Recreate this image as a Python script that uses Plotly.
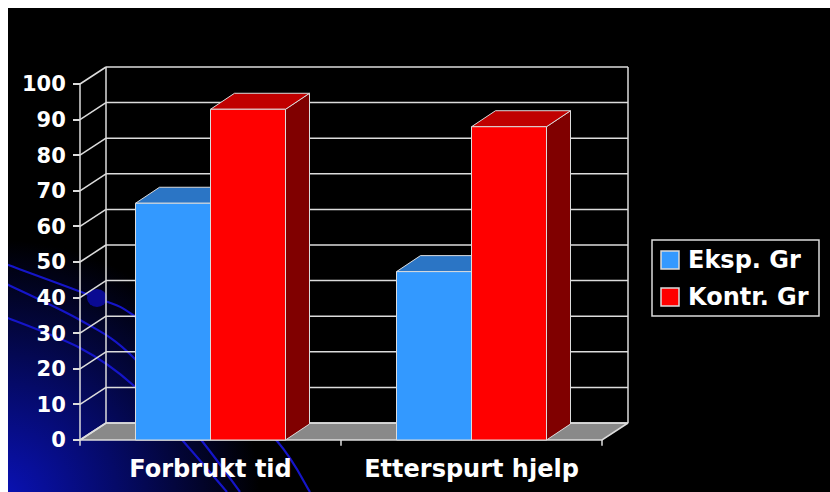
import base64
import plotly.graph_objects as go

# ---- data -------------------------------------------------------------
categories = ["Forbrukt tid", "Etterspurt hjelp"]
series_names = ["Eksp. Gr", "Kontr. Gr"]
eksp_values = [66.5, 47.3]
kontr_values = [92.9, 88.0]
y_ticks = [0, 10, 20, 30, 40, 50, 60, 70, 80, 90, 100]

# ---- styling ----------------------------------------------------------
front_colors = ["#3399FF", "#FF0000"]
top_colors = ["#2B75C5", "#C00000"]
side_colors = ["#1F5C9E", "#800000"]
edge_color = "#DCDCDC"
grid_color = "#DCDCDC"
floor_color = "#898989"
FONT = "DejaVu Sans"

# screen scale of the category / value axes
PX_PER_CAT = 261.0
PX_PER_VAL = 3.56
X_LEFT_PX = 80.0      # pixel of x = -0.5
Y_ZERO_PX = 440.0     # pixel of value 0
W, H = 830, 492
ML, MT = 8, 8


def px2x(p):
    return (p - X_LEFT_PX) / PX_PER_CAT - 0.5


def px2v(p):
    return (Y_ZERO_PX - p) / PX_PER_VAL


X_RANGE = [px2x(ML), px2x(W)]
Y_RANGE = [px2v(H), px2v(MT)]

# 3D depth offsets (axis units)
WALL_DX, WALL_DV = 26 / PX_PER_CAT, 17 / PX_PER_VAL
BAR_DX, BAR_DV = 24 / PX_PER_CAT, 16 / PX_PER_VAL
BAR_W = 75 / PX_PER_CAT
X_MIN, X_MAX = -0.5, len(categories) - 0.5
V_MAX = y_ticks[-1]

fig = go.Figure()


def poly(xs, ys, fill, line_color=edge_color, width=1.0):
    fig.add_trace(go.Scatter(
        x=list(xs) + [xs[0]], y=list(ys) + [ys[0]], mode="lines",
        fill="toself", fillcolor=fill,
        line=dict(color=line_color, width=width),
        hoverinfo="skip", showlegend=False))


def segments(pairs, color=grid_color, width=1.5):
    xs, ys = [], []
    for (x0, y0), (x1, y1) in pairs:
        xs += [x0, x1, None]
        ys += [y0, y1, None]
    fig.add_trace(go.Scatter(x=xs, y=ys, mode="lines",
                             line=dict(color=color, width=width),
                             hoverinfo="skip", showlegend=False))


# ---- floor ------------------------------------------------------------
poly([X_MIN, X_MAX, X_MAX + WALL_DX, X_MIN + WALL_DX],
     [0, 0, WALL_DV, WALL_DV], floor_color, edge_color, 1.5)

# ---- back wall and side wall grid ------------------------------------
back = [((X_MIN + WALL_DX, t + WALL_DV), (X_MAX + WALL_DX, t + WALL_DV)) for t in y_ticks]
back += [((X_MIN + WALL_DX, WALL_DV), (X_MIN + WALL_DX, V_MAX + WALL_DV)),
         ((X_MAX + WALL_DX, WALL_DV), (X_MAX + WALL_DX, V_MAX + WALL_DV))]
side = [((X_MIN, t), (X_MIN + WALL_DX, t + WALL_DV)) for t in y_ticks]
side += [((X_MIN, -1.6), (X_MIN, V_MAX))]
cat_ticks = [((b, 0), (b, -1.6)) for b in [c + 0.5 for c in range(len(categories))]]
segments(back + side + cat_ticks)

# ---- 3D columns -------------------------------------------------------
values = [eksp_values, kontr_values]
for ci in range(len(categories)):
    for si, vals in enumerate(values):
        v = vals[ci]
        x0 = ci - BAR_W + si * BAR_W
        x1 = x0 + BAR_W
        # side face
        poly([x1, x1 + BAR_DX, x1 + BAR_DX, x1],
             [0, BAR_DV, v + BAR_DV, v], side_colors[si])
        # top face
        poly([x0, x1, x1 + BAR_DX, x0 + BAR_DX],
             [v, v, v + BAR_DV, v + BAR_DV], top_colors[si])
        # front face
        poly([x0, x1, x1, x0], [0, 0, v, v], front_colors[si])

# ---- legend -----------------------------------------------------------
shapes = [dict(type="rect", xref="x", yref="y",
               x0=px2x(652), x1=px2x(819), y0=px2v(240), y1=px2v(316),
               line=dict(color=edge_color, width=1.5), fillcolor="rgba(0,0,0,0)")]
annotations = []
for i, name in enumerate(series_names):
    cy = 260 + 37 * i
    shapes.append(dict(type="rect", xref="x", yref="y",
                       x0=px2x(661), x1=px2x(679), y0=px2v(cy - 9), y1=px2v(cy + 9),
                       line=dict(color=edge_color, width=1.5), fillcolor=front_colors[i]))
    annotations.append(dict(x=px2x(686), y=px2v(cy), xref="x", yref="y",
                            text=name, showarrow=False, xanchor="left", yanchor="middle",
                            font=dict(family=FONT, size=24, color="white", weight="bold")))


# ---- background swirl -------------------------------------------------
def smooth_path(pts):
    d = "M%.1f,%.1f" % pts[0]
    for i in range(len(pts) - 1):
        p0 = pts[i - 1] if i > 0 else pts[i]
        p1, p2 = pts[i], pts[i + 1]
        p3 = pts[i + 2] if i + 2 < len(pts) else pts[i + 1]
        c1 = (p1[0] + (p2[0] - p0[0]) / 6, p1[1] + (p2[1] - p0[1]) / 6)
        c2 = (p2[0] - (p3[0] - p1[0]) / 6, p2[1] - (p3[1] - p1[1]) / 6)
        d += " C%.1f,%.1f %.1f,%.1f %.1f,%.1f" % (c1 + c2 + p2)
    return d


curves = [
    [(0, 262), (97, 298), (133, 315), (205, 372), (277, 441), (310, 492)],
    [(0, 281), (80, 320), (133, 357), (202, 441), (240, 492)],
    [(0, 315), (80, 348), (133, 385), (183, 441), (227, 492)],
]
paths = "".join('<path d="%s" fill="none" stroke="#1515C8" stroke-width="2.2"/>'
                % smooth_path(c) for c in curves)
svg = (
    '<svg xmlns="http://www.w3.org/2000/svg" width="822" height="484" '
    'viewBox="8 8 822 484" preserveAspectRatio="none">'
    '<defs><radialGradient id="g" cx="0" cy="500" r="260" gradientUnits="userSpaceOnUse">'
    '<stop offset="0" stop-color="#0A12B8"/>'
    '<stop offset="0.45" stop-color="#050A68"/>'
    '<stop offset="1" stop-color="#000000"/>'
    '</radialGradient></defs>'
    '<rect x="8" y="8" width="822" height="484" fill="#000000"/>'
    '<rect x="8" y="200" width="420" height="292" fill="url(#g)"/>'
    + paths +
    '<ellipse cx="97" cy="298" rx="10" ry="9" fill="#0A0A92"/>'
    '</svg>'
)
bg_src = "data:image/svg+xml;base64," + base64.b64encode(svg.encode()).decode()

fig.update_layout(
    width=W, height=H,
    margin=dict(l=ML, t=MT, r=0, b=0, pad=0),
    paper_bgcolor="white", plot_bgcolor="black",
    showlegend=False,
    shapes=shapes, annotations=annotations,
    images=[dict(source=bg_src, xref="x", yref="y",
                 x=X_RANGE[0], y=Y_RANGE[1],
                 sizex=X_RANGE[1] - X_RANGE[0], sizey=Y_RANGE[1] - Y_RANGE[0],
                 sizing="stretch", xanchor="left", yanchor="top",
                 layer="below")],
    xaxis=dict(range=X_RANGE, showgrid=False, zeroline=False, showline=False,
               tickvals=list(range(len(categories))), ticktext=categories,
               ticks="", anchor="free",
               position=(0 - Y_RANGE[0]) / (Y_RANGE[1] - Y_RANGE[0]),
               ticklabelstandoff=12,
               tickfont=dict(family=FONT, size=24, color="white", weight="bold")),
    yaxis=dict(range=Y_RANGE, showgrid=False, zeroline=False, showline=False,
               tickvals=y_ticks, ticks="outside", ticklen=7, tickwidth=1.5,
               tickcolor=grid_color, anchor="free",
               position=(X_MIN - X_RANGE[0]) / (X_RANGE[1] - X_RANGE[0]),
               ticklabelstandoff=3,
               tickfont=dict(family=FONT, size=21, color="white", weight="bold")),
)

fig.write_html("out.html")
